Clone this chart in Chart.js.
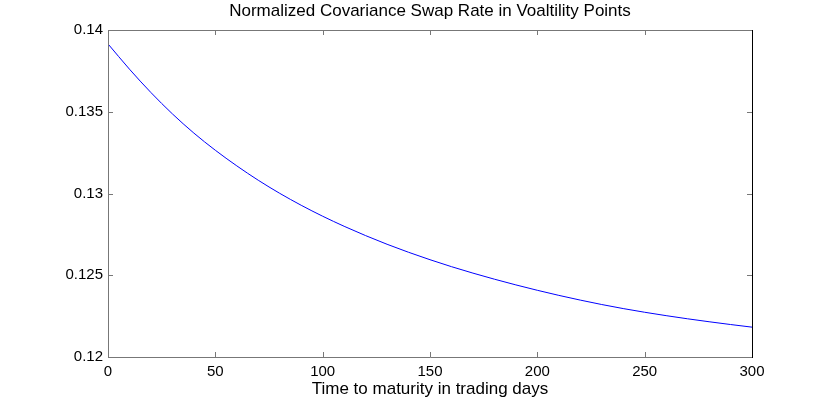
<!DOCTYPE html>
<html>
<head>
<meta charset="utf-8">
<script src="https://cdn.jsdelivr.net/npm/chart.js@4"></script>
<style>
  html, body { margin: 0; padding: 0; background: #fff; }
  #wrap { width: 830px; height: 403px; }
</style>
</head>
<body>
<div id="wrap"><canvas id="chart"></canvas></div>
<script>
// values
const days = [0, 10, 20, 30, 40, 50, 60, 70, 80, 90, 100, 110, 120, 130, 140, 150,
  160, 170, 180, 190, 200, 210, 220, 230, 240, 250, 260, 270, 280, 290, 300];
const swapRate = [0.13915, 0.137605, 0.136175, 0.13487, 0.133695, 0.132645, 0.13169, 0.13081, 0.13001, 0.12928, 0.12861,
  0.127995, 0.127425, 0.126895, 0.126405, 0.12595, 0.125525, 0.12513, 0.12476, 0.12441, 0.12408,
  0.12377, 0.12348, 0.12321, 0.122962, 0.122737, 0.122529, 0.122336, 0.122156, 0.121986, 0.121826];
const xTicks = [0, 50, 100, 150, 200, 250, 300];
const yTicks = [0.12, 0.125, 0.13, 0.135, 0.14];
const chartTitle = "Normalized Covariance Swap Rate in Voaltility Points";

const FONT = "'Liberation Sans', Arial, Helvetica, sans-serif";

// matlab style box with inward tick marks, title centred over the axes
const boxPlugin = {
  id: "box",
  afterDraw(chart) {
    const { ctx, chartArea: a, scales } = chart;
    ctx.save();
    ctx.lineWidth = 1;
    const t = 5;
    ctx.strokeStyle = "#777";
    xTicks.forEach((v) => {
      const px = Math.round(scales.x.getPixelForValue(v)) + 0.5;
      ctx.beginPath();
      ctx.moveTo(px, a.bottom); ctx.lineTo(px, a.bottom - t);
      ctx.moveTo(px, a.top); ctx.lineTo(px, a.top + t);
      ctx.stroke();
    });
    yTicks.forEach((v) => {
      const py = Math.round(scales.y.getPixelForValue(v)) + 0.5;
      ctx.beginPath();
      ctx.moveTo(a.left, py); ctx.lineTo(a.left + t, py);
      ctx.moveTo(a.right, py); ctx.lineTo(a.right - t, py);
      ctx.stroke();
    });
    ctx.beginPath();
    ctx.moveTo(a.right, a.top + 0.5); ctx.lineTo(a.left + 0.5, a.top + 0.5);
    ctx.lineTo(a.left + 0.5, a.bottom + 0.5); ctx.lineTo(a.right, a.bottom + 0.5);
    ctx.stroke();
    ctx.strokeStyle = "#000";
    ctx.beginPath();
    ctx.moveTo(a.right + 0.5, a.top); ctx.lineTo(a.right + 0.5, a.bottom + 1);
    ctx.stroke();

    ctx.fillStyle = "#000";
    ctx.font = "17px " + FONT;
    ctx.textAlign = "center";
    ctx.textBaseline = "middle";
    ctx.fillText(chartTitle, (a.left + a.right) / 2, 11);
    ctx.restore();
  },
};

const ctx = document.getElementById("chart").getContext("2d");

const config = {
  type: "line",
  data: {
    datasets: [
      {
        data: days.map((d, i) => ({ x: d, y: swapRate[i] })),
        borderColor: "#0000ff",
        borderWidth: 1,
        pointRadius: 0,
        cubicInterpolationMode: "monotone",
        fill: false,
      },
    ],
  },
  options: {
    responsive: true,
    maintainAspectRatio: false,
    animation: false,
    devicePixelRatio: 1,
    layout: { padding: { left: 0, right: 78, top: 30, bottom: 0 } },
    scales: {
      x: {
        type: "linear",
        min: 0,
        max: 300,
        afterFit: (scale) => { scale.height = 46; },
        afterBuildTicks: (scale) => { scale.ticks = xTicks.map((v) => ({ value: v })); },
        grid: { display: false, drawTicks: false },
        border: { display: false },
        ticks: { color: "#000", padding: 6, maxRotation: 0, font: { family: FONT, size: 15 } },
        title: {
          display: true,
          text: "Time to maturity in trading days",
          color: "#000",
          padding: { top: 0, bottom: 3 },
          font: { family: FONT, size: 17 },
        },
      },
      y: {
        min: 0.12,
        max: 0.14,
        afterFit: (scale) => { scale.width = 108; },
        afterBuildTicks: (scale) => { scale.ticks = yTicks.map((v) => ({ value: v })); },
        grid: { display: false, drawTicks: false },
        border: { display: false },
        ticks: {
          color: "#000",
          padding: 5,
          font: { family: FONT, size: 15 },
          callback: function (value) {
            return String(+value.toFixed(3));
          },
        },
      },
    },
    plugins: {
      legend: { display: false },
      tooltip: { enabled: false },
      title: { display: false },
    },
  },
  plugins: [boxPlugin],
};

new Chart(ctx, config);
</script>
</body>
</html>
